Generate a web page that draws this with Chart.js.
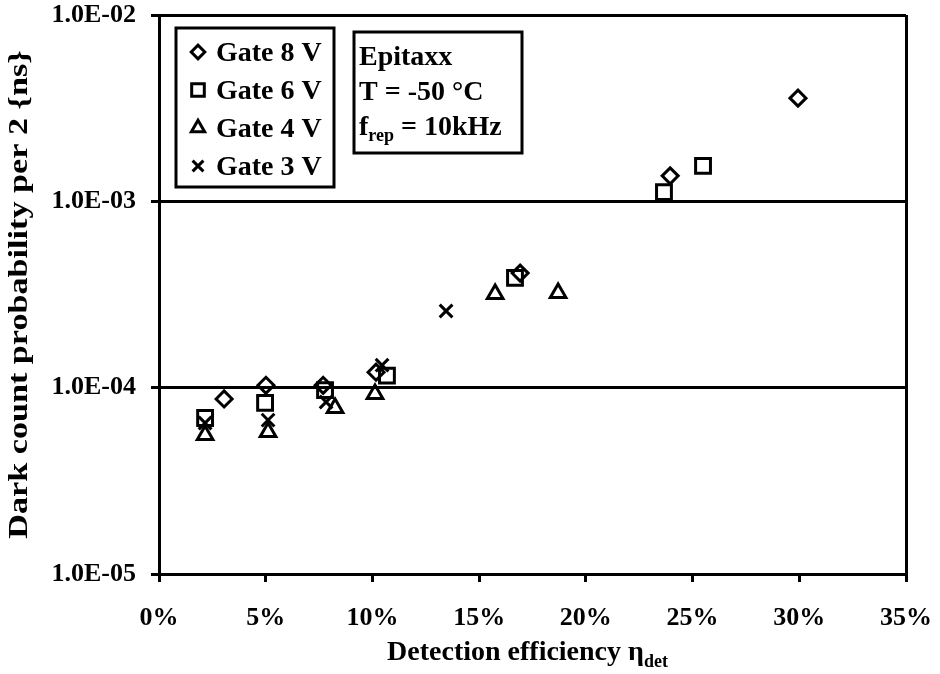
<!DOCTYPE html>
<html>
<head>
<meta charset="utf-8">
<script src="https://cdn.jsdelivr.net/npm/chart.js@4/dist/chart.umd.min.js"></script>
<style>
  html, body { margin: 0; padding: 0; background: #fff; }
</style>
</head>
<body>
<canvas id="chart" width="940" height="674"></canvas>
<script>
"use strict";

// detection efficiency (%) and dark count probability per gate voltage
var gate8X = [3.05, 5.01, 7.69, 10.17, 16.92, 23.95, 29.94];
var gate8Y = [8.7e-5, 1.03e-4, 1.03e-4, 1.21e-4, 4.12e-4, 1.37e-3, 3.58e-3];
var gate6X = [2.16, 4.97, 7.78, 10.68, 16.68, 23.66, 25.49];
var gate6Y = [6.87e-5, 8.28e-5, 9.7e-5, 1.16e-4, 3.88e-4, 1.12e-3, 1.55e-3];
var gate4X = [2.16, 5.11, 8.25, 10.12, 15.75, 18.70];
var gate4Y = [5.57e-5, 5.78e-5, 7.78e-5, 9.25e-5, 3.18e-4, 3.22e-4];
var gate3X = [2.16, 5.11, 7.83, 10.45, 13.45];
var gate3Y = [6.46e-5, 6.70e-5, 8.38e-5, 1.32e-4, 2.58e-4];

var seriesNames = ["Gate 8 V", "Gate 6 V", "Gate 4 V", "Gate 3 V"];
var yTicks = [1e-5, 1e-4, 1e-3, 1e-2];
var yTickLabels = ["1.0E-05", "1.0E-04", "1.0E-03", "1.0E-02"];
var noteLines = ["Epitaxx", "T = -50 \u00B0C"];
var yTitle = "Dark count probability per 2 {ns}";

var FONT = '"Liberation Serif", "Times New Roman", serif';

var pts = function (xs, ys) {
    return xs.map(function (x, i) { return { x: x, y: ys[i] }; });
};

var styles = [
    { pointStyle: "rectRot", radius: 8 },
    { pointStyle: "rect", radius: 10.5 },
    { pointStyle: "triangle", radius: 9 },
    { pointStyle: "crossRot", radius: 9 }
];

var mkSet = function (i, xs, ys) {
    return {
        label: seriesNames[i],
        data: pts(xs, ys),
        showLine: false,
        pointStyle: styles[i].pointStyle,
        pointRadius: styles[i].radius,
        pointHoverRadius: styles[i].radius,
        borderColor: "#000",
        backgroundColor: "rgba(0,0,0,0)",
        pointBorderWidth: 3,
        borderWidth: 3
    };
};

var overlay = {
    id: "overlay",
    afterDraw: function (chart) {
        var ctx = chart.ctx;
        var a = chart.chartArea;
        ctx.save();
        ctx.strokeStyle = "#000";
        ctx.fillStyle = "#000";
        ctx.lineWidth = 3;

        // legend
        ctx.strokeRect(a.left + 17, a.top + 13, 158, 159);
        ctx.font = "bold 28px " + FONT;
        ctx.textBaseline = "alphabetic";
        ctx.textAlign = "left";
        chart.data.datasets.forEach(function (ds, i) {
            var cy = a.top + 37 + i * 38;
            ctx.save();
            ctx.lineWidth = 3;
            ctx.fillStyle = "rgba(0,0,0,0)";
            Chart.helpers.drawPoint(ctx, {
                pointStyle: ds.pointStyle,
                radius: ds.pointRadius * 0.85,
                rotation: 0,
                borderWidth: 3
            }, a.left + 39, cy);
            ctx.restore();
            ctx.fillText(ds.label, a.left + 57, cy + 9);
        });

        // note box
        ctx.strokeRect(a.left + 195, a.top + 17, 168, 121);
        var tx = a.left + 200;
        ctx.fillText(noteLines[0], tx, a.top + 50);
        ctx.fillText(noteLines[1], tx, a.top + 85);
        var base = a.top + 120;
        ctx.fillText("f", tx, base);
        var w = ctx.measureText("f").width;
        ctx.font = "bold 18px " + FONT;
        ctx.fillText("rep", tx + w, base + 6);
        w += ctx.measureText("rep").width;
        ctx.font = "bold 28px " + FONT;
        ctx.fillText(" = 10kHz", tx + w, base);

        // x axis title with subscript
        var title = "Detection efficiency \u03B7";
        var sub = "det";
        ctx.font = "bold 28px " + FONT;
        var tw = ctx.measureText(title).width;
        ctx.font = "bold 18px " + FONT;
        var sw = ctx.measureText(sub).width;
        var x0 = (a.left + a.right) / 2 - (tw + sw) / 2 - 5;
        ctx.font = "bold 28px " + FONT;
        ctx.fillText(title, x0, 660);
        ctx.font = "bold 18px " + FONT;
        ctx.fillText(sub, x0 + tw, 667);

        // y axis title, stretched along its length like the original
        ctx.save();
        ctx.translate(20, (a.top + a.bottom) / 2);
        ctx.rotate(-Math.PI / 2);
        ctx.scale(1.22, 1);
        ctx.font = "bold 28px " + FONT;
        ctx.textAlign = "center";
        ctx.textBaseline = "middle";
        ctx.fillText(yTitle, 0, 0);
        ctx.restore();

        ctx.restore();
    }
};

var tickFont = { family: FONT, size: 26, weight: "bold" };

new Chart(document.getElementById("chart"), {
    type: "scatter",
    data: {
        datasets: [
            mkSet(0, gate8X, gate8Y),
            mkSet(1, gate6X, gate6Y),
            mkSet(2, gate4X, gate4Y),
            mkSet(3, gate3X, gate3Y)
        ]
    },
    options: {
        responsive: false,
        animation: false,
        devicePixelRatio: 1,
        layout: { padding: 0 },
        plugins: {
            legend: { display: false },
            tooltip: { enabled: false }
        },
        scales: {
            x: {
                type: "linear",
                min: 0,
                max: 35,
                ticks: {
                    stepSize: 5,
                    maxRotation: 0,
                    color: "#000",
                    font: tickFont,
                    padding: 21,
                    callback: function (v) { return v + "%"; }
                },
                grid: {
                    color: function (c) {
                        return c.tick && c.tick.value === 35 ? "#000" : "rgba(0,0,0,0)";
                    },
                    lineWidth: 3,
                    tickLength: 8,
                    tickColor: "#000",
                    tickWidth: 3
                },
                border: { color: "#000", width: 3 },
                afterFit: function (s) {
                    s.height = 100;
                    s.paddingLeft = 0;
                    s.paddingRight = 34;
                }
            },
            y: {
                type: "logarithmic",
                min: 1e-5,
                max: 1e-2,
                afterBuildTicks: function (s) {
                    s.ticks = yTicks.map(function (v) { return { value: v }; });
                },
                ticks: {
                    color: "#000",
                    font: tickFont,
                    padding: 15,
                    autoSkip: false,
                    callback: function (v) { return yTickLabels[yTicks.indexOf(v)]; }
                },
                grid: {
                    color: "#000",
                    lineWidth: 3,
                    tickLength: 8,
                    tickWidth: 3
                },
                border: { color: "#000", width: 3 },
                afterFit: function (s) {
                    s.width = 159;
                    s.paddingTop = 15;
                    s.paddingBottom = 0;
                }
            }
        }
    },
    plugins: [overlay]
});
</script>
</body>
</html>
